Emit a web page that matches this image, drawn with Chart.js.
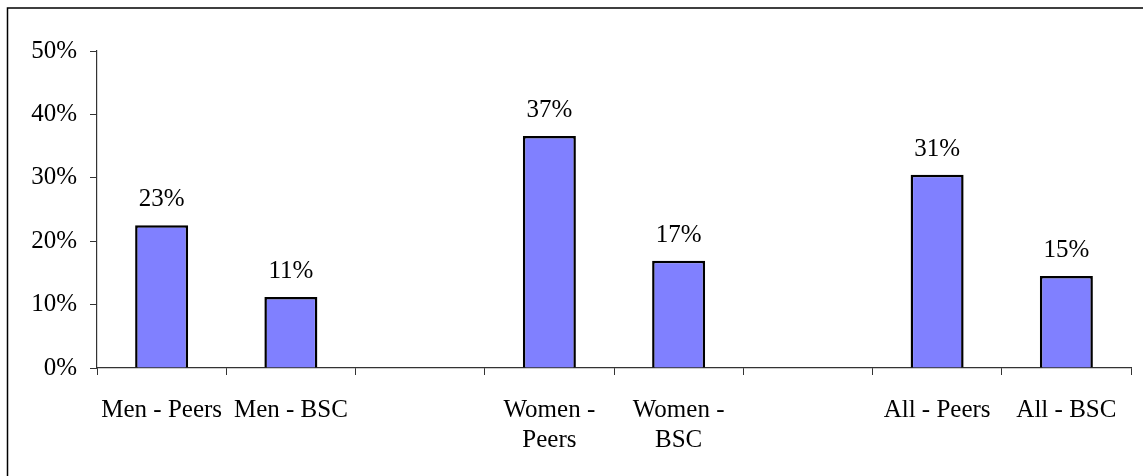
<!DOCTYPE html>
<html>
<head>
<meta charset="utf-8">
<script src="https://cdn.jsdelivr.net/npm/chart.js@4/dist/chart.umd.min.js"></script>
<style>
html,body{margin:0;padding:0;background:#fff;}
canvas{display:block;}
</style>
</head>
<body>
<canvas id="c" width="1143" height="476"></canvas>
<script>
const categories = [["Men - Peers"], ["Men - BSC"], [""], ["Women -", "Peers"], ["Women -", "BSC"], [""], ["All - Peers"], ["All - BSC"]];
const shareValues = [22.5, 11.2, null, 36.6, 16.9, null, 30.5, 14.5];
const yTicks = [0, 10, 20, 30, 40, 50];

const FONT = "'Liberation Serif', 'Times New Roman', serif";

const framePlugin = {
  id: 'frame',
  beforeDraw(chart) {
    const ctx = chart.ctx;
    ctx.save();
    ctx.fillStyle = '#fff';
    ctx.fillRect(0, 0, chart.width, chart.height);
    ctx.strokeStyle = '#000';
    ctx.lineWidth = 1.5;
    ctx.beginPath();
    ctx.moveTo(7.5, chart.height + 2);
    ctx.lineTo(7.5, 8);
    ctx.lineTo(chart.width + 2, 8);
    ctx.stroke();
    ctx.restore();
  }
};

const labelPlugin = {
  id: 'valueLabels',
  afterDatasetsDraw(chart) {
    const ctx = chart.ctx;
    const meta = chart.getDatasetMeta(0);
    ctx.save();
    ctx.font = '25px ' + FONT;
    ctx.fillStyle = '#000';
    ctx.textAlign = 'center';
    ctx.textBaseline = 'alphabetic';
    meta.data.forEach((bar, i) => {
      const v = shareValues[i];
      if (v === null || v === undefined) return;
      ctx.fillText(Math.round(v) + '%', bar.x, bar.y - 19);
    });
    ctx.restore();
  }
};

new Chart(document.getElementById('c'), {
  type: 'bar',
  data: {
    labels: categories,
    datasets: [{
      data: shareValues,
      backgroundColor: '#8080FF',
      borderColor: '#000',
      borderWidth: 2.5,
      categoryPercentage: 1,
      barPercentage: 0.41
    }]
  },
  options: {
    responsive: false,
    devicePixelRatio: 1,
    animation: false,
    layout: { padding: { left: 0, right: 12, top: 51, bottom: 0 } },
    plugins: { legend: { display: false }, tooltip: { enabled: false } },
    scales: {
      x: {
        offset: true,
        grid: { offset: true, drawOnChartArea: false, drawTicks: true, tickLength: 7, color: '#333', lineWidth: 1 },
        border: { display: true, color: '#333', width: 1.2 },
        ticks: { color: '#000', font: { family: FONT, size: 25, lineHeight: 1.2 }, maxRotation: 0, minRotation: 0, autoSkip: false, padding: 20 },
        afterFit(scale) { scale.height = 108; }
      },
      y: {
        min: 0,
        max: 50,
        afterBuildTicks(scale) { scale.ticks = yTicks.map(v => ({ value: v })); },
        grid: { drawOnChartArea: false, drawTicks: true, tickLength: 7, color: '#333', lineWidth: 1 },
        border: { display: true, color: '#333', width: 1.2 },
        ticks: { color: '#000', font: { family: FONT, size: 25 }, padding: 13, callback: v => v + '%' },
        afterFit(scale) { scale.width = 97; }
      }
    }
  },
  plugins: [framePlugin, labelPlugin]
});
</script>
</body>
</html>
